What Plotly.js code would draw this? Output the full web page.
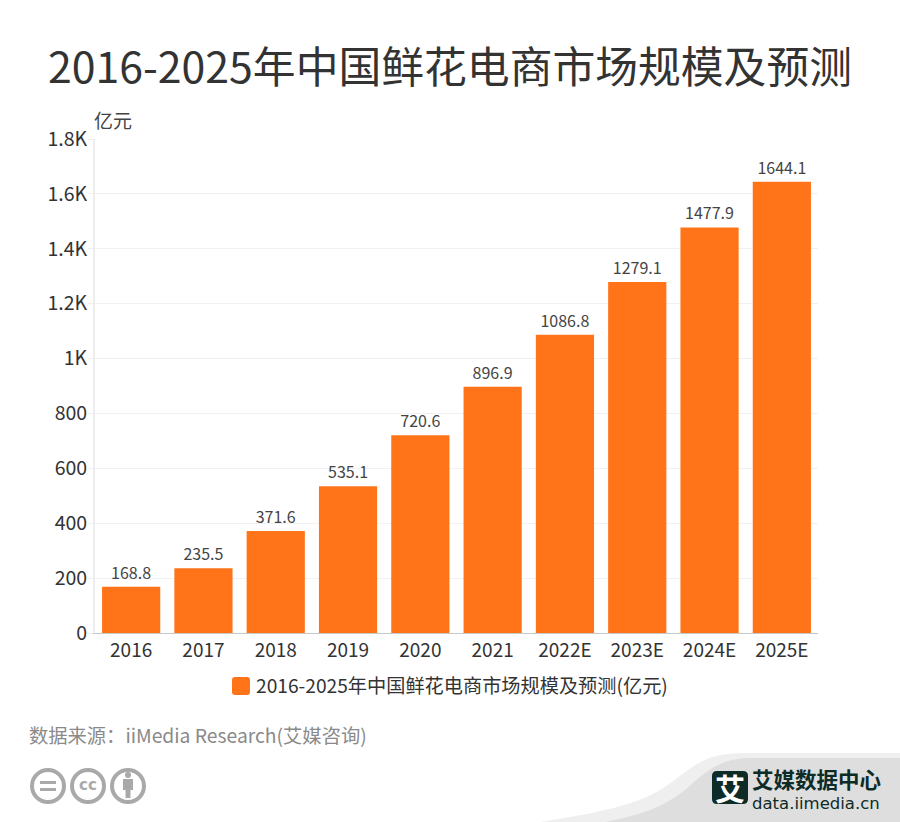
<!DOCTYPE html>
<html><head><meta charset="utf-8">
<script src="https://cdn.plot.ly/plotly-3.0.1.min.js"></script>
<style>html,body{margin:0;padding:0;background:#fff}</style></head>
<body><div id="chart" style="width:900px;height:822px"></div>
<script>
const categories = ['2016','2017','2018','2019','2020','2021','2022E','2023E','2024E','2025E'];
const marketSize = [168.8,235.5,371.6,535.1,720.6,896.9,1086.8,1279.1,1477.9,1644.1];
const tickValues = [0,200,400,600,800,1000,1200,1400,1600,1800];
const tickLabels = ['0','200','400','600','800','1K','1.2K','1.4K','1.6K','1.8K'];
const seriesName = '2016-2025年中国鲜花电商市场规模及预测(亿元)';
const titleText = '2016-2025年中国鲜花电商市场规模及预测';
const sourceText = '数据来源：iiMedia Research(艾媒咨询)';
const FONT = '"Noto Sans CJK SC","Noto Sans",sans-serif';
const W = 900, H = 822, L = 95, R = 82, T = 139, B = 189;
const PW = W - L - R, PH = H - T - B;
const px = x => (x - L) / PW, py = y => (H - B - y) / PH;
const P = (cmds) => cmds.replace(/(-?[\d.]+),(-?[\d.]+)/g, (m, a, b) => px(+a) + ',' + py(+b));
function paperPath(d, fill) {
  return {type:'path', xref:'paper', yref:'paper', path:P(d), fillcolor:fill, line:{width:0}, layer:'below'};
}
function ring(cx, cy, r) {
  return {type:'circle', xref:'paper', yref:'paper', x0:px(cx-r), x1:px(cx+r), y0:py(cy+r), y1:py(cy-r),
          line:{color:'#a9a9a9', width:4}, fillcolor:'#fff', layer:'below'};
}
const shapes = [
  paperPath('M 540,822 C 600,812 640,806 672,782 C 695,765 705,753 745,753 L 900,753 L 900,822 Z', '#efefef'),
  paperPath('M 605,822 C 640,815 662,808 685,790 C 705,772 720,758 750,758 L 900,758 L 900,822 Z', '#dedede'),
  paperPath('M 717,771 L 743,771 Q 748,771 748,776 L 748,799 Q 748,804 743,804 L 717,804 Q 712,804 712,799 L 712,776 Q 712,771 717,771 Z', '#0d2b27'),
  ring(48,786,16), ring(88,786,16), ring(128,786,16),
  paperPath('M 40,781 L 56,781 L 56,784 L 40,784 Z', '#a9a9a9'),
  paperPath('M 40,788 L 56,788 L 56,791 L 40,791 Z', '#a9a9a9'),
  paperPath('M 123,779 L 133,779 L 133,790 L 130.5,790 L 130.5,798 L 125.5,798 L 125.5,790 L 123,790 Z', '#a9a9a9'),
  {type:'circle', xref:'paper', yref:'paper', x0:px(125), x1:px(131), y0:py(778), y1:py(772), fillcolor:'#a9a9a9', line:{width:0}, layer:'below'}
];
function note(text, x, y, size, color, anchor, extra) {
  return Object.assign({text, xref:'paper', yref:'paper', x:px(x), y:py(y), showarrow:false,
    xanchor:anchor||'left', yanchor:'middle', xshift:0, font:{family:FONT, size, color}}, extra||{});
}
const annotations = [
  note('亿元', 92, 120, 19, '#444'),
  note(sourceText, 27, 735, 19.3, '#8a8a8a'),
  note('cc', 88, 785, 17, '#a9a9a9', 'center', {font:{family:'"DejaVu Sans",sans-serif', size:15, color:'#a9a9a9', weight:700}}),
  note('艾', 730, 787, 30, '#ffffff', 'center', {font:{family:FONT, size:30, color:'#ffffff', weight:700}}),
  note('<span style="font-size:21.5px;font-family:\'Noto Sans CJK SC\';font-weight:700">艾媒数据中心</span><br>data.iimedia.cn',
       750, 788, 16.5, '#0d2b27', 'left', {align:'left', font:{family:'"DejaVu Sans",sans-serif', size:16.5, color:'#0d2b27'}})
];
const trace = {
  type:'bar', x:categories, y:marketSize, name:seriesName, showlegend:true,
  marker:{color:'#ff7419', line:{width:0}},
  text:marketSize.map(String), textposition:'outside', cliponaxis:false,
  textfont:{family:FONT, size:16, color:'#444'}, hoverinfo:'x+y'
};
const layout = {
  width:W, height:H, margin:{l:L,r:R,t:T,b:B,pad:0},
  paper_bgcolor:'#fff', plot_bgcolor:'#fff', bargap:0.195,
  font:{family:FONT, color:'#333'},
  title:{text:titleText, x:0.5, xanchor:'center', y:1-68/H, yanchor:'middle',
         font:{family:FONT, size:42.8, color:'#333'}},
  xaxis:{type:'category', tickfont:{family:FONT, size:19, color:'#333'}, showgrid:false,
         showline:true, linecolor:'#c8c8c8', linewidth:1, ticks:'', ticklen:0, zeroline:false},
  yaxis:{range:[0,1800], tickmode:'array', tickvals:tickValues, ticktext:tickLabels,
         tickfont:{family:FONT, size:19.5, color:'#333'}, gridcolor:'#f1f1f1', gridwidth:1,
         showline:true, linecolor:'#eeeeee', linewidth:2, ticks:'outside', ticklen:5, tickcolor:'#eeeeee',
         ticklabelstandoff:-3, zeroline:false},
  legend:{orientation:'h', x:px(444.5), xanchor:'center', y:1-686/H, yref:'container', yanchor:'middle',
          font:{family:FONT, size:19.2, color:'#333'}, itemclick:false, itemdoubleclick:false},
  shapes, annotations
};
Plotly.newPlot('chart',[trace],layout,{displayModeBar:false}).then(gd=>{
  document.querySelectorAll('.legend .legendbar path, .legend .legendpoints path').forEach(p=>{
    const r=3,s=9,o=5;
    p.setAttribute('d',`M${-s+r+o},${-s}H${s-r+o}Q${s+o},${-s} ${s+o},${-s+r}V${s-r}Q${s+o},${s} ${s-r+o},${s}H${-s+r+o}Q${-s+o},${s} ${-s+o},${s-r}V${-s+r}Q${-s+o},${-s} ${-s+r+o},${-s}Z`);
  });
});
</script></body></html>
